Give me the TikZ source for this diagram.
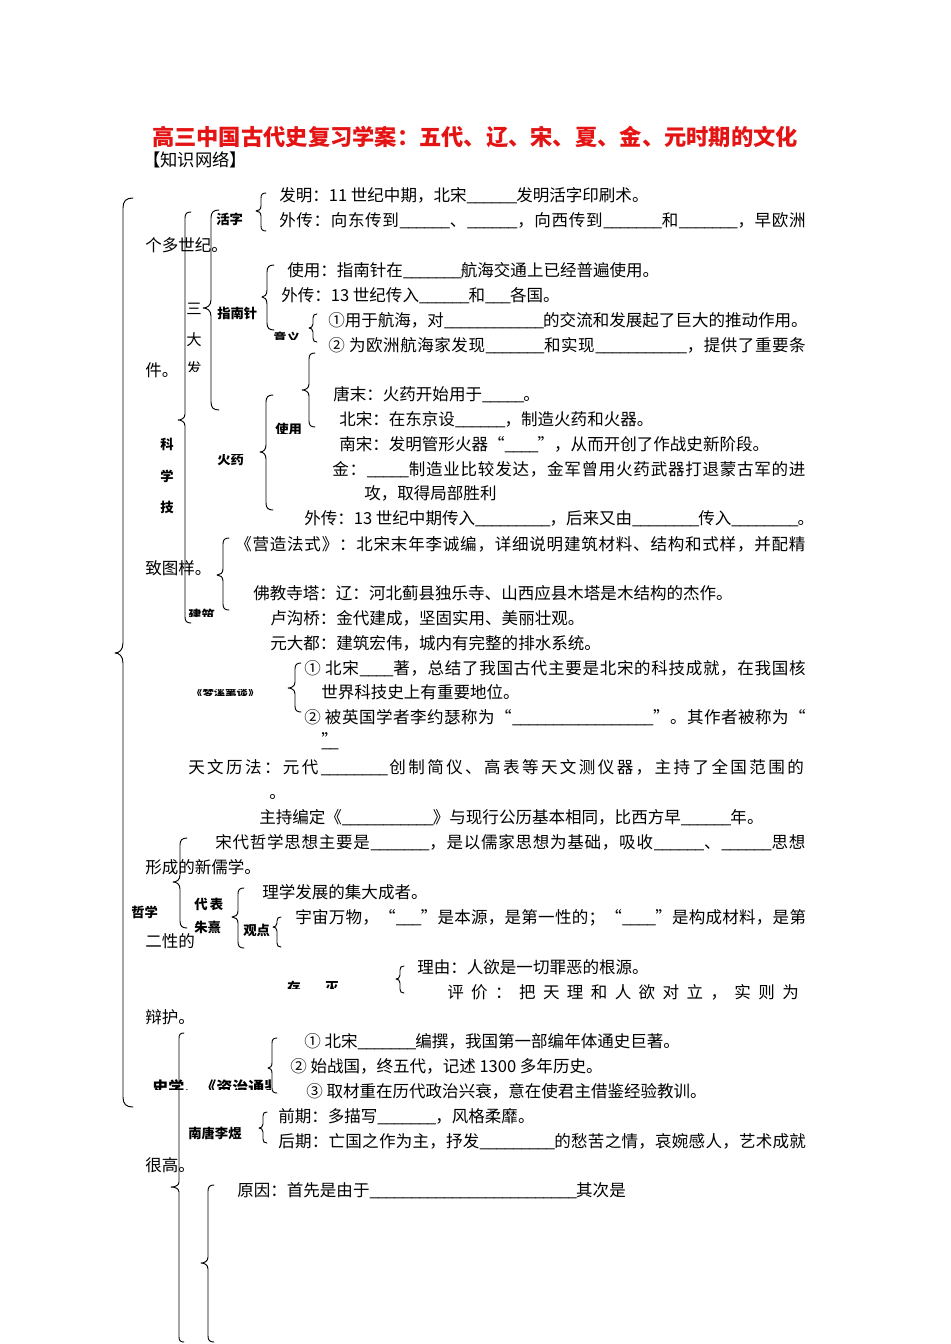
\documentclass[tikz,border=0pt]{standalone}
\usepackage{fontspec}
\setmainfont{Noto Sans CJK SC}
\definecolor{titlered}{RGB}{228,20,20}
\ExplSyntaxOn
\cs_new:Npn \bk #1 {\prg_replicate:nn {#1} {\makebox[0.5em][l]{\_}}}
\NewDocumentCommand \jl {m m} { \makebox[#1][l]{ \tl_map_inline:nn {#2} { ##1 \hfil } \unskip } }
\ExplSyntaxOff
\newcommand\mybrace[6]{%
 \draw[brc] ({#1+#5},#2) .. controls ({#1+0.3*#5},#2) and (#1,{#2+0.3*#5}) .. (#1,{#2+#5})
 -- (#1,{#3-#5}) .. controls (#1,{#3-0.3*#5}) and ({#1-0.5*#6},#3) .. ({#1-#6},#3)
 .. controls ({#1-0.5*#6},#3) and (#1,{#3+0.3*#5}) .. (#1,{#3+#5})
 -- (#1,{#4-#5}) .. controls (#1,{#4-0.3*#5}) and ({#1+0.3*#5},#4) .. ({#1+#5},#4);}
\tikzset{
 tx/.style={anchor=west, inner sep=0pt, font=\fontsize{12.4}{14}\selectfont, text height=0.88em, text depth=0.12em},
 lbl/.style={anchor=west, inner sep=0pt, font=\fontsize{10}{12}\selectfont\bfseries, text height=0.88em, text depth=0.12em},
 brc/.style={line width=0.7pt, line join=round, line cap=round}
}
\begin{document}
\begin{tikzpicture}[x=0.75pt,y=-0.75pt]
\useasboundingbox (0,0) rectangle (950,1344);
\fill[white] (0,0) rectangle (950,1344);
% title
\node[inner sep=0pt, font=\fontsize{16.7}{18}\selectfont\bfseries, text=titlered] (title) at (475,137) {高三中国古代史复习学案：五代、辽、宋、夏、金、元时期的文化};
\node[tx, font=\fontsize{13}{14}\selectfont] (net) at (143,161) {【知识网络】};
% braces
\mybrace{123}{198}{653}{1107}{10}{8}
\mybrace{185}{212}{420}{623}{6}{7}
\mybrace{211}{210}{308}{410}{8}{8}
\mybrace{261}{193}{211}{231}{5}{5}
\mybrace{267}{265}{297}{330}{7}{5}
\mybrace{313}{314}{328}{342}{4}{4}
\mybrace{309}{353}{390}{427}{6}{7}
\mybrace{266}{395}{452}{510}{7}{6}
\mybrace{223}{538}{575}{610}{6}{6}
\mybrace{295}{663}{688}{712}{6}{7}
\mybrace{180}{838}{882}{928}{7}{7}
\mybrace{238}{888}{917}{948}{6}{6}
\mybrace{277}{917}{927}{947}{4}{4}
\mybrace{400}{966}{979}{993}{4}{4}
\mybrace{179}{1033}{1187}{1342}{5}{8}
\mybrace{272}{1038}{1068}{1093}{5}{4}
\mybrace{263}{1112}{1128}{1143}{4}{4}
\mybrace{208}{1185}{1263}{1342}{6}{7}
% labels
\node[lbl] (huozi) at (216,219) {活字};
\node[tx, font=\fontsize{11.5}{12}\selectfont] (san) at (186,309) {三};
\node[tx, font=\fontsize{11.5}{12}\selectfont] (da) at (186,340) {大};
\begin{scope}\clip (180,360) rectangle (210,371);
\node[tx, font=\fontsize{11.5}{12}\selectfont] (fa) at (186,369) {发};
\end{scope}
\node[lbl] (znz) at (217,313) {指南针};
\begin{scope}\clip (270,325) rectangle (305,339);
\node[lbl] (yiyi) at (273,338) {意义};
\end{scope}
\begin{scope}\clip (270,415) rectangle (305,433);
\node[lbl] (shiyong) at (275,429) {使用};
\end{scope}
\begin{scope}\clip (212,454) rectangle (250,470);
\node[lbl] (huoyao) at (217,459) {火药};
\end{scope}
\node[lbl] (ke) at (160,444) {科};
\node[lbl] (xue) at (160,476) {学};
\node[lbl] (ji) at (160,507) {技};
\begin{scope}\clip (185,600) rectangle (222,616);
\node[lbl] (jianzhu) at (188,615) {建筑};
\end{scope}
\begin{scope}\clip (188,689.5) rectangle (275,695);
\node[lbl, font=\fontsize{8.5}{10}\selectfont\bfseries] (mxbt) at (191,692) {《梦溪笔谈》};
\end{scope}
\node[lbl] (zhexue) at (131,912) {哲学};
\node[lbl] (daibiao) at (194,904) {代\,表};
\node[lbl] (zhuxi) at (194,927) {朱熹};
\node[lbl] (guandian) at (243,930) {观点};
\begin{scope}\clip (280,975) rectangle (350,988);
\node[lbl] (cun) at (287,987) {存};
\node[lbl] (mie) at (325,987) {灭};
\end{scope}
\node[lbl] (litangliyu) at (188,1133) {南唐李煜};
\begin{scope}\clip (148,1075) rectangle (270,1089);
\node[lbl, font=\fontsize{12}{14}\selectfont\bfseries] (shixue) at (152,1088) {史学、《资治通鉴》};
\end{scope}
% text lines
\node[tx] (l1) at (279,196) {发明：11 世纪中期，北宋\bk{6}发明活字印刷术。};
\node[tx] (l2) at (279,221) {\jl{395.25pt}{外传：向东传到{\bk{6}}、{\bk{6}}，向西传到{\bk{7}}和{\bk{7}}，早欧洲}};
\node[tx] (l3) at (145,246) {个多世纪。};
\node[tx] (l4) at (287,271) {使用：指南针在\bk{7}航海交通上已经普遍使用。};
\node[tx] (l5) at (281,296) {外传：13 世纪传入\bk{6}和\bk{3}各国。};
\node[tx] (l6) at (328,321) {\jl{358.5pt}{①用于航海，对{\bk{12}}的交流和发展起了巨大的推动作用。}};
\node[tx] (l7) at (328,346) {\jl{358.5pt}{{② }为欧洲航海家发现{\bk{7}}和实现{\bk{11}}，提供了重要条}};
\node[tx] (l8) at (145,371) {件。};
\node[tx] (l9) at (333,395) {唐末：火药开始用于\bk{5}。};
\node[tx] (l10) at (339,420) {北宋：在东京设\bk{6}，制造火药和火器。};
\node[tx] (l11) at (339,445) {南宋：发明管形火器“\bk{4}”，从而开创了作战史新阶段。};
\node[tx] (l12) at (332,470) {\jl{355.5pt}{金：{\bk{5}}制造业比较发达，金军曾用火药武器打退蒙古军的进}};
\node[tx] (l13) at (364,494) {攻，取得局部胜利};
\node[tx] (l14) at (304,519) {\jl{378pt}{外传：{13 }世纪中期传入{\bk{9}}，后来又由{\bk{8}}传入{\bk{8}}。}};
\node[tx] (l15) at (235,545) {\jl{428.25pt}{《营造法式》：北宋末年李诚编，详细说明建筑材料、结构和式样，并配精}};
\node[tx] (l16) at (145,569) {致图样。};
\node[tx] (l17) at (253,594) {佛教寺塔：辽：河北蓟县独乐寺、山西应县木塔是木结构的杰作。};
\node[tx] (l18) at (270,619) {卢沟桥：金代建成，坚固实用、美丽壮观。};
\node[tx] (l19) at (270,644) {元大都：建筑宏伟，城内有完整的排水系统。};
\node[tx] (l20) at (304,669) {\jl{376.5pt}{{① }北宋{\bk{4}}著，总结了我国古代主要是北宋的科技成就，在我国核}};
\node[tx] (l21) at (321,693) {世界科技史上有重要地位。};
\node[tx] (l22) at (304,718) {\jl{376.5pt}{{② }被英国学者李约瑟称为“{\bk{17}}”。其作者被称为“}};
\node[tx] (l23) at (321,741) {”};
\node[tx] (l23b) at (321,742) {\bk{2}};
\node[tx] (l24) at (188,768) {\jl{463.5pt}{天文历法：元代{\bk{8}}创制简仪、高表等天文测仪器，主持了全国范围的}};
\node[tx] (l25) at (269,793) {。};
\node[tx] (l26) at (259,818) {主持编定《\bk{11}》与现行公历基本相同，比西方早\bk{6}年。};
\node[tx] (l27) at (215,843) {\jl{443.25pt}{宋代哲学思想主要是{\bk{7}}，是以儒家思想为基础，吸收{\bk{6}}、{\bk{6}}思想}};
\node[tx] (l28) at (145,868) {形成的新儒学。};
\node[tx] (l29) at (262,893) {理学发展的集大成者。};
\node[tx] (l30) at (295,918) {\jl{383.25pt}{宇宙万物，“{\bk{3}}”是本源，是第一性的；“{\bk{4}}”是构成材料，是第}};
\node[tx] (l31) at (145,942) {二性的};
\node[tx] (l32) at (417,968) {理由：人欲是一切罪恶的根源。};
\node[tx] (l33) at (447,993) {\jl{269.25pt}{评价：把天理和人欲对立，实则为}};
\node[tx] (l34) at (145,1018) {辩护。};
\node[tx] (l35) at (304,1042) {① 北宋\bk{7}编撰，我国第一部编年体通史巨著。};
\node[tx] (l36) at (290,1067) {② 始战国，终五代，记述 1300 多年历史。};
\node[tx] (l37) at (306,1092) {③ 取材重在历代政治兴衰，意在使君主借鉴经验教训。};
\node[tx] (l38) at (278,1117) {前期：多描写\bk{7}，风格柔靡。};
\node[tx] (l39) at (278,1142) {\jl{396pt}{后期：亡国之作为主，抒发{\bk{9}}的愁苦之情，哀婉感人，艺术成就}};
\node[tx] (l40) at (145,1166) {很高。};
\node[tx] (l41) at (237,1191) {原因：首先是由于\bk{25}其次是};
\end{tikzpicture}
\end{document}
